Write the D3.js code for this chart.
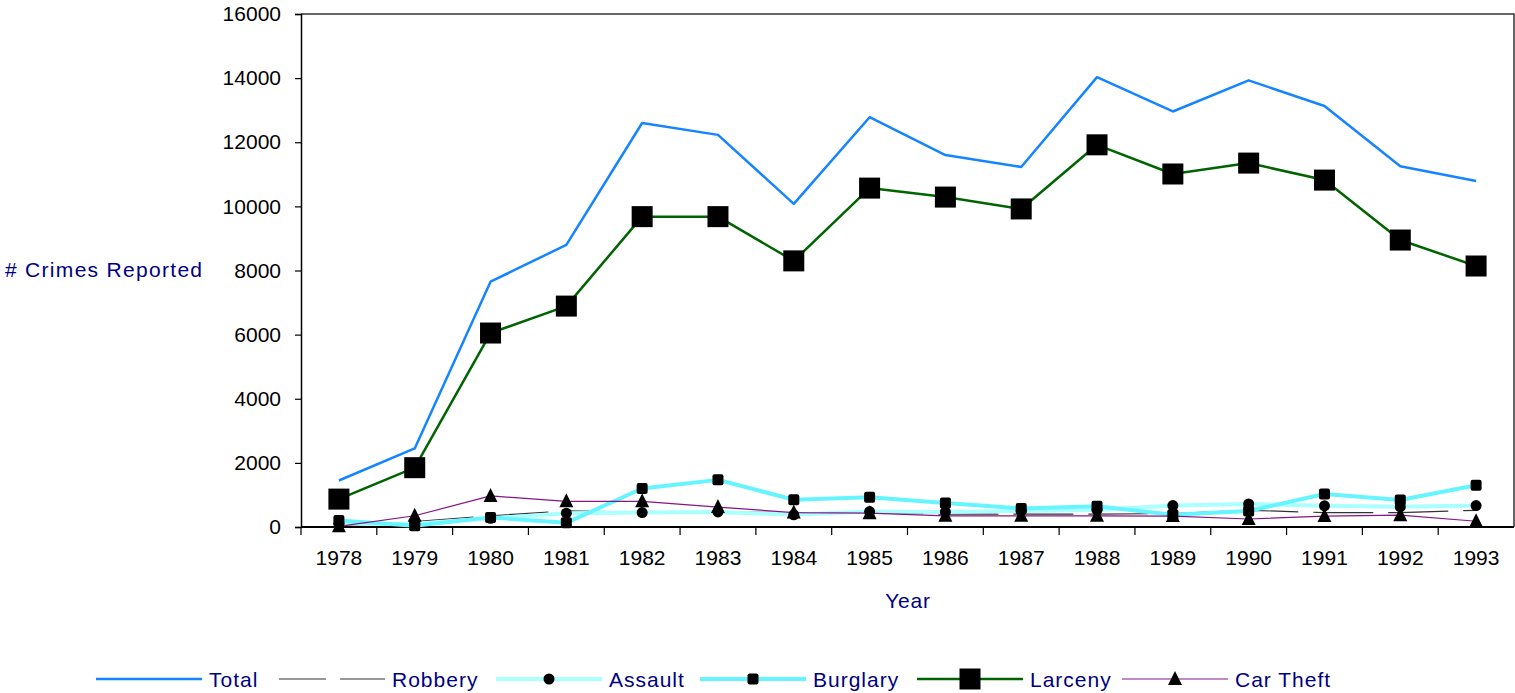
<!DOCTYPE html>
<html>
<head>
<meta charset="utf-8">
<script src="https://cdn.jsdelivr.net/npm/d3@7"></script>
<style>
  html, body { margin: 0; padding: 0; background: #fff; }
  svg { display: block; font-family: "Liberation Sans", Arial, sans-serif; }
</style>
</head>
<body>
<svg id="chart" width="1515" height="693"></svg>
<script>
// Reported crimes per year, 1978-1993
const years = [1978, 1979, 1980, 1981, 1982, 1983, 1984, 1985, 1986, 1987, 1988, 1989, 1990, 1991, 1992, 1993];
const total    = [1450, 2450, 7650, 8800, 12600, 12230, 10080, 12780, 11600, 11230, 14030, 12960, 13930, 13130, 11250, 10790];
const robbery  = [30, 170, 350, 500, 460, 470, 450, 450, 400, 400, 400, 420, 520, 450, 450, 520];
const assault  = [100, 100, 270, 430, 450, 470, 380, 480, 470, 500, 530, 670, 720, 660, 630, 670];
const burglary = [200, 40, 300, 130, 1200, 1470, 850, 930, 750, 580, 650, 380, 500, 1030, 840, 1300];
const larceny  = [870, 1850, 6050, 6890, 9680, 9680, 8300, 10570, 10290, 9920, 11920, 11010, 11350, 10820, 8950, 8140];
const carTheft = [20, 350, 970, 800, 800, 620, 450, 430, 350, 350, 350, 340, 250, 340, 370, 180];
const yTicks = [0, 2000, 4000, 6000, 8000, 10000, 12000, 14000, 16000];

const series = [
  { name: "Total",     values: total,    color: "#1584ff", width: 2.5, dash: null,    marker: null },
  { name: "Robbery",   values: robbery,  color: "#333333", width: 1.2, dash: "60,15", marker: null },
  { name: "Assault",   values: assault,  color: "#aaffff", width: 4,   dash: null,    marker: "circle" },
  { name: "Burglary",  values: burglary, color: "#66f4ff", width: 4,   dash: null,    marker: "smallSquare" },
  { name: "Larceny",   values: larceny,  color: "#006400", width: 2.5, dash: null,    marker: "bigSquare" },
  { name: "Car Theft", values: carTheft, color: "#861486", width: 1.2, dash: null,    marker: "triangle" }
];

const svg = d3.select("#chart");
const plotLeft = 301, plotRight = 1514, plotTop = 14, plotBottom = 527;

const x = d3.scaleBand().domain(years).range([plotLeft, plotRight]).padding(0);
const y = d3.scaleLinear().domain([0, 16000]).range([plotBottom, plotTop]);
const cx = d => x(d) + x.bandwidth() / 2;

// plot frame (top and right edges)
svg.append("path")
  .attr("d", `M${plotLeft},${plotTop}H${plotRight}V${plotBottom}`)
  .attr("fill", "none").attr("stroke", "#333").attr("stroke-width", 1.5);

// y axis
const yAxis = d3.axisLeft(y).tickValues(yTicks).tickSize(6).tickPadding(14).tickFormat(d3.format("d"));
const gy = svg.append("g").attr("transform", `translate(${plotLeft},0)`).call(yAxis);
gy.select(".domain").attr("stroke", "#000").attr("stroke-width", 1.5);
gy.selectAll(".tick line").attr("stroke", "#000").attr("stroke-width", 1.2);
gy.selectAll(".tick text").attr("font-size", 21).attr("fill", "#000")
  .attr("font-family", "Liberation Sans, Arial, sans-serif");

// x axis: tick marks between categories, labels centered in each band
const gx = svg.append("g").attr("transform", `translate(0,${plotBottom})`);
gx.append("line").attr("x1", plotLeft).attr("x2", plotRight).attr("y1", 0).attr("y2", 0)
  .attr("stroke", "#000").attr("stroke-width", 2);
gx.selectAll("line.tick").data(d3.range(years.length)).enter().append("line")
  .attr("class", "tick")
  .attr("x1", i => x(years[i])).attr("x2", i => x(years[i]))
  .attr("y1", 0).attr("y2", 8)
  .attr("stroke", "#000").attr("stroke-width", 1.2);
gx.selectAll("text").data(years).enter().append("text")
  .attr("x", d => cx(d)).attr("y", 38)
  .attr("text-anchor", "middle").attr("font-size", 21).attr("fill", "#000")
  .text(d => d);

// axis titles
svg.append("text").attr("x", 5).attr("y", 277)
  .attr("font-size", 21).attr("fill", "#000080").attr("letter-spacing", 1.3)
  .text("# Crimes Reported");
svg.append("text").attr("x", 908).attr("y", 608)
  .attr("text-anchor", "middle").attr("font-size", 21).attr("fill", "#000080")
  .attr("letter-spacing", 0.8)
  .text("Year");

// marker shapes
function drawMarker(g, type, px, py) {
  if (type === "circle") {
    g.append("circle").attr("cx", px).attr("cy", py).attr("r", 5.5).attr("fill", "#000");
  } else if (type === "smallSquare") {
    g.append("rect").attr("x", px - 5.5).attr("y", py - 5.5).attr("width", 11).attr("height", 11)
      .attr("rx", 2).attr("fill", "#000");
  } else if (type === "bigSquare") {
    g.append("rect").attr("x", px - 10.5).attr("y", py - 10.5).attr("width", 21).attr("height", 21)
      .attr("fill", "#000");
  } else if (type === "triangle") {
    g.append("path").attr("d", `M${px},${py - 8}L${px + 7},${py + 6}L${px - 7},${py + 6}Z`)
      .attr("fill", "#000");
  }
}

const line = d3.line().x((v, i) => cx(years[i])).y(v => y(v));
const gLines = svg.append("g");
series.forEach(s => {
  gLines.append("path").datum(s.values)
    .attr("d", line)
    .attr("fill", "none")
    .attr("stroke", s.color)
    .attr("stroke-width", s.width)
    .attr("stroke-linejoin", "round")
    .attr("stroke-dasharray", s.dash);
});
const gMarks = svg.append("g");
series.forEach(s => {
  if (!s.marker) return;
  s.values.forEach((v, i) => drawMarker(gMarks, s.marker, cx(years[i]), y(v)));
});

// legend
const legendItems = [
  { s: series[0], x0: 96 },
  { s: series[1], x0: 279 },
  { s: series[2], x0: 496 },
  { s: series[3], x0: 700 },
  { s: series[4], x0: 917 },
  { s: series[5], x0: 1122 }
];
const ly = 679;
const gLeg = svg.append("g");
legendItems.forEach(item => {
  const s = item.s;
  const len = 106;
  gLeg.append("line")
    .attr("x1", item.x0).attr("x2", item.x0 + len).attr("y1", ly).attr("y2", ly)
    .attr("stroke", s.color).attr("stroke-width", s.width)
    .attr("stroke-dasharray", s.dash ? "47,14" : null);
  if (s.marker) drawMarker(gLeg, s.marker, item.x0 + len / 2, ly);
  gLeg.append("text")
    .attr("x", item.x0 + len + 7).attr("y", ly + 7.5)
    .attr("font-size", 21).attr("fill", "#000080").attr("letter-spacing", 1)
    .text(s.name);
});
</script>
</body>
</html>
